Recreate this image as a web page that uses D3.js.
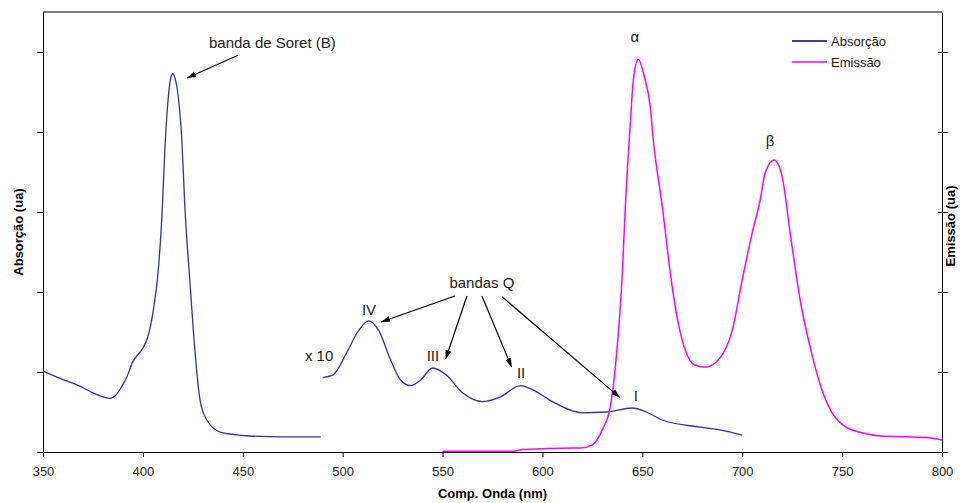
<!DOCTYPE html>
<html>
<head>
<meta charset="utf-8">
<script src="https://cdn.jsdelivr.net/npm/d3@7"></script>
<style>
  body { margin: 0; background: #fff; }
  svg { font-family: "Liberation Sans", Arial, sans-serif; }
</style>
</head>
<body>
<script>
// absorption, Soret region (nm, ua)
const soretNm = [350, 358.5, 367, 375, 380, 383.5, 386, 388.5, 392, 395, 400, 402.5, 405, 407.6, 409.6, 411, 412.6, 414, 415, 416, 417.7, 419.5, 421, 423.6, 426, 428.6, 432, 438.6, 445, 453.6, 470, 489];
const soretVal = [1.01, 0.92, 0.84, 0.74, 0.69, 0.67, 0.70, 0.78, 0.94, 1.13, 1.30, 1.44, 1.74, 2.24, 2.98, 3.78, 4.40, 4.68, 4.73, 4.68, 4.44, 3.90, 3.07, 2.11, 1.28, 0.65, 0.40, 0.25, 0.22, 0.20, 0.19, 0.19];

// absorption, Q bands (x 10)
const qNm = [490, 495, 502, 508, 513, 518, 524, 529, 534, 539, 545, 552, 560, 570, 579, 589, 595, 605, 620, 632, 645, 652, 660, 679, 690, 700];
const qVal = [0.93, 0.96, 1.24, 1.52, 1.64, 1.52, 1.15, 0.90, 0.83, 0.90, 1.05, 0.96, 0.74, 0.63, 0.69, 0.83, 0.78, 0.63, 0.49, 0.50, 0.55, 0.50, 0.40, 0.31, 0.27, 0.21];

// emission
const emNm = [550, 585, 590, 600, 615, 619, 625, 630, 634, 637, 640, 641.5, 644, 645.5, 648, 651, 654, 655.5, 660, 664, 667, 672, 676, 681.5, 689, 695, 700, 705, 709, 711.5, 716, 720, 724, 729, 734, 740, 745, 752, 760, 769, 782, 792, 800];
const emVal = [0.01, 0.01, 0.03, 0.04, 0.05, 0.05, 0.09, 0.28, 0.57, 1.19, 2.24, 3.07, 4.11, 4.65, 4.91, 4.69, 4.31, 3.90, 3.07, 2.24, 1.74, 1.24, 1.09, 1.06, 1.18, 1.52, 2.15, 2.74, 3.15, 3.49, 3.65, 3.44, 2.74, 1.90, 1.31, 0.77, 0.49, 0.31, 0.24, 0.20, 0.19, 0.18, 0.15];

const xTicks = [350, 400, 450, 500, 550, 600, 650, 700, 750, 800];
const yTicks = [0, 1, 2, 3, 4, 5];

const seriesNames = ["Absorção", "Emissão"];
const seriesColors = ["#333399", "#ff00ff"];

// annotations in data units
const textNotes = [
  { t: "banda de Soret (B)", nm: 433.1, v: 5.05, a: "start" },
  { t: "α", nm: 646.3, v: 5.125, a: "middle" },
  { t: "β", nm: 713.9, v: 3.825, a: "middle" },
  { t: "bandas Q", nm: 569.7, v: 2.05, a: "middle" },
  { t: "IV", nm: 513.2, v: 1.71, a: "middle" },
  { t: "III", nm: 545.2, v: 1.14, a: "middle" },
  { t: "II", nm: 589.3, v: 0.925, a: "middle" },
  { t: "I", nm: 646.8, v: 0.64, a: "middle" },
  { t: "x 10", nm: 481.1, v: 1.14, a: "start" }
];
const arrows = [
  [[447.6, 4.96], [422.1, 4.675]],
  [[556.2, 1.95], [519.2, 1.625]],
  [[562.2, 1.95], [551.5, 1.16]],
  [[569.7, 1.95], [584.6, 1.06]],
  [[579.8, 1.94], [638.8, 0.68]]
];

const W = 961, H = 503;
const margin = { top: 12, right: 19, bottom: 51, left: 43 };
const w = W - margin.left - margin.right,
    h = H - margin.top - margin.bottom;

const svg = d3.select("body").append("svg")
    .attr("width", W)
    .attr("height", H);

const defs = svg.append("defs");
defs.append("marker")
    .attr("id", "head")
    .attr("markerUnits", "userSpaceOnUse")
    .attr("markerWidth", 10).attr("markerHeight", 8)
    .attr("refX", 9).attr("refY", 3)
    .attr("orient", "auto")
    .append("path")
    .attr("d", "M0,0 L9,3 L0,6 Z")
    .attr("fill", "#000");

const g = svg.append("g")
    .attr("transform", "translate(" + margin.left + "," + margin.top + ")");

const x = d3.scaleLinear().domain([350, 800]).range([0, w]);
const y = d3.scaleLinear().domain([0, 5.5]).range([h, 0]);

// axes
g.append("g")
    .attr("transform", "translate(0," + h + ")")
    .call(d3.axisBottom(x).tickValues(xTicks).tickSize(5).tickSizeOuter(0).tickPadding(10))
    .call(a => a.selectAll("text").attr("font-size", 13).attr("fill", "#222"));

g.append("g")
    .call(d3.axisLeft(y).tickValues(yTicks).tickSize(6).tickSizeOuter(0).tickFormat(""));

const right = g.append("g")
    .attr("transform", "translate(" + w + ",0)")
    .call(d3.axisRight(y).tickValues(yTicks).tickSize(6).tickSizeOuter(0).tickFormat(""));
right.selectAll(".tick line").attr("x1", -4);

g.append("line")
    .attr("x1", 0).attr("x2", w)
    .attr("y1", 0).attr("y2", 0)
    .attr("stroke", "#000");

g.selectAll(".domain").attr("stroke", "#000");

// curves
const line = d3.line()
    .x(d => x(d[0]))
    .y(d => y(d[1]))
    .curve(d3.curveMonotoneX);

const emission = emNm.map((n, i) => [n, emVal[i]]);
const soret = soretNm.map((n, i) => [n, soretVal[i]]);
const qBands = qNm.map((n, i) => [n, qVal[i]]);

g.append("path").datum(soret)
    .attr("d", line).attr("fill", "none")
    .attr("stroke", seriesColors[0]).attr("stroke-width", 1.3);
g.append("path").datum(qBands)
    .attr("d", line).attr("fill", "none")
    .attr("stroke", seriesColors[0]).attr("stroke-width", 1.3);
g.append("path").datum(emission)
    .attr("d", line).attr("fill", "none")
    .attr("stroke", seriesColors[1]).attr("stroke-width", 1.5);

// annotations
g.selectAll(".note")
    .data(textNotes)
    .enter().append("text")
    .attr("class", "note")
    .attr("x", d => x(d.nm))
    .attr("y", d => y(d.v))
    .attr("text-anchor", d => d.a)
    .attr("font-size", 15)
    .attr("fill", "#222")
    .text(d => d.t);

g.selectAll(".arrow")
    .data(arrows)
    .enter().append("line")
    .attr("class", "arrow")
    .attr("x1", d => x(d[0][0])).attr("y1", d => y(d[0][1]))
    .attr("x2", d => x(d[1][0])).attr("y2", d => y(d[1][1]))
    .attr("stroke", "#000")
    .attr("stroke-width", 1.2)
    .attr("marker-end", "url(#head)");

// legend
const legend = svg.append("g").attr("transform", "translate(792,41)");
seriesNames.forEach((name, i) => {
    legend.append("line")
        .attr("x1", 0).attr("x2", 35)
        .attr("y1", i * 21).attr("y2", i * 21)
        .attr("stroke", seriesColors[i] === "#333399" ? "#000080" : seriesColors[i])
        .attr("stroke-width", 1.3);
    legend.append("text")
        .attr("x", 39).attr("y", i * 21 + 4.5)
        .attr("font-size", 13)
        .attr("fill", "#222")
        .text(name);
});

// axis titles
svg.append("text")
    .attr("x", margin.left + w / 2).attr("y", 498)
    .attr("text-anchor", "middle")
    .attr("font-size", 13).attr("font-weight", "bold")
    .text("Comp. Onda (nm)");

svg.append("text")
    .attr("transform", "translate(23," + (margin.top + h / 2) + ") rotate(-90)")
    .attr("text-anchor", "middle")
    .attr("font-size", 13).attr("font-weight", "bold")
    .text("Absorção (ua)");

svg.append("text")
    .attr("transform", "translate(955," + (margin.top + h / 2 - 6) + ") rotate(-90)")
    .attr("text-anchor", "middle")
    .attr("font-size", 13).attr("font-weight", "bold")
    .text("Emissão (ua)");
</script>
</body>
</html>
